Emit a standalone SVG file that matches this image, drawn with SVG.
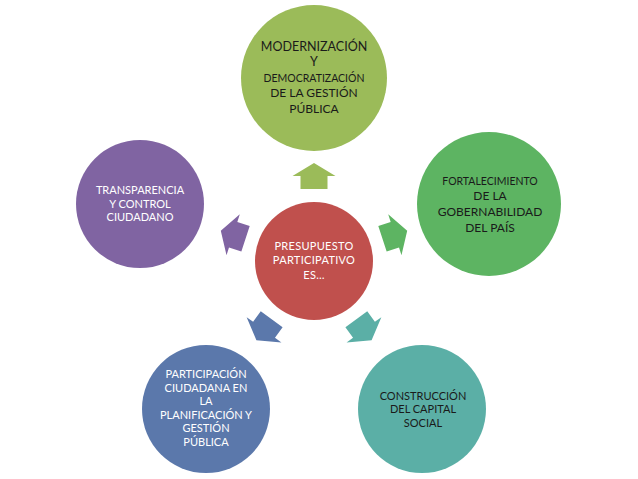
<svg xmlns="http://www.w3.org/2000/svg" width="638" height="479" viewBox="0 0 638 479">
<style>
text{font-family:Lato,"Open Sans","Liberation Sans",sans-serif;text-anchor:middle}
.w{fill:#ffffff}
.k{fill:#1a1a1a}
.s11{font-size:11px}
.s10{font-size:10.5px}
.s12{font-size:12px}
.s13{font-size:12.5px}
</style>
<defs>
<path id="arr" d="M0,-98 L21.5,-85 L13.5,-85 L13.5,-72 L-13.5,-72 L-13.5,-85 L-21.5,-85 Z"/>
</defs>
<rect width="638" height="479" fill="#ffffff"/>
<g id="connectors">
<use href="#arr" transform="translate(314,261)" fill="#9BBB59"/>
<use href="#arr" transform="translate(314,261) rotate(72)" fill="#5DB462"/>
<use href="#arr" transform="translate(314,261) rotate(144)" fill="#5BAFA6"/>
<use href="#arr" transform="translate(314,261) rotate(216)" fill="#5B78AB"/>
<use href="#arr" transform="translate(314,261) rotate(288)" fill="#8064A2"/>
</g>
<g id="center">
<circle cx="314" cy="261" r="59" fill="#C0504D"/>
<text class="w s11" x="314" y="250" letter-spacing="0.3">PRESUPUESTO</text>
<text class="w s11" x="314" y="264" letter-spacing="0.3">PARTICIPATIVO</text>
<text class="w s11" x="314" y="279" letter-spacing="0.3">ES…</text>
</g>
<g id="top">
<circle cx="314" cy="78" r="73" fill="#9BBB59"/>
<text class="k s13" x="314" y="51">MODERNIZACIÓN</text>
<text class="k s13" x="314" y="66">Y</text>
<text class="k s10" x="314" y="82">DEMOCRATIZACIÓN</text>
<text class="k s12" x="314" y="97">DE LA GESTIÓN</text>
<text class="k s12" x="314" y="113">PÚBLICA</text>
</g>
<g id="right">
<circle cx="489" cy="204" r="72" fill="#5DB462"/>
<text class="k s10" x="490" y="185">FORTALECIMIENTO</text>
<text class="k s12" x="490" y="200">DE LA</text>
<text class="k s12" x="490" y="216">GOBERNABILIDAD</text>
<text class="k s12" x="490" y="232">DEL PAÍS</text>
</g>
<g id="bottomright">
<circle cx="422" cy="409" r="64" fill="#5BAFA6"/>
<text class="k s11" x="423" y="400">CONSTRUCCIÓN</text>
<text class="k s11" x="423" y="413">DEL CAPITAL</text>
<text class="k s11" x="423" y="427">SOCIAL</text>
</g>
<g id="bottomleft">
<circle cx="206" cy="409" r="64" fill="#5B78AB"/>
<text class="w s11" x="206" y="378">PARTICIPACIÓN</text>
<text class="w s11" x="206" y="392">CIUDADANA EN</text>
<text class="w s11" x="206" y="405">LA</text>
<text class="w s11" x="206" y="419">PLANIFICACIÓN Y</text>
<text class="w s11" x="206" y="432">GESTIÓN</text>
<text class="w s11" x="206" y="446">PÚBLICA</text>
</g>
<g id="left">
<circle cx="140" cy="204" r="64" fill="#8064A2"/>
<text class="w s11" x="140" y="194">TRANSPARENCIA</text>
<text class="w s11" x="140" y="208">Y CONTROL</text>
<text class="w s11" x="140" y="221">CIUDADANO</text>
</g>
</svg>
